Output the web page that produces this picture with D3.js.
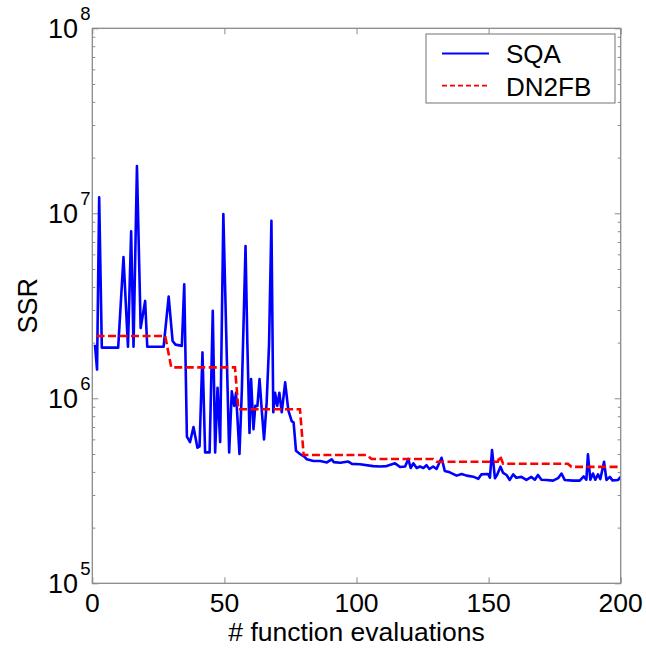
<!DOCTYPE html>
<html>
<head>
<meta charset="utf-8">
<script src="https://cdn.jsdelivr.net/npm/d3@7"></script>
<style>
  html, body { margin: 0; padding: 0; background: #fff; }
  text { font-family: "Liberation Sans", Arial, sans-serif; fill: #000; }
</style>
</head>
<body>
<svg id="chart" width="646" height="648"></svg>
<script>
// ---- data ----
const sqaEval = [1, 1.8, 2.6, 3.6, 9.8, 11.8, 13.5, 14.7, 15.6, 16.9, 18.3, 20.0, 20.8, 27.0, 28.9, 30.4, 31.5, 33.9, 34.8, 35.8,
  37.0, 38.3, 39.8, 40.6, 41.7, 42.7, 44.4, 45.6, 46.5, 47.4, 48.4, 49.6, 50.9, 51.8, 52.8, 53.7, 54.4, 55.7, 56.6, 58.0,
  58.7, 59.5, 60.1, 61.0, 61.7, 62.5, 63.3, 64.2, 65.0, 66.0, 66.9, 67.8, 68.5, 69.2, 70.0, 70.8, 71.7, 73.0, 74.2, 75.5,
  76.2, 77.1, 78.6, 80.5, 81.2, 83.7, 86.2, 88.8, 90.6, 91.4, 93.9, 96.9, 98.3, 101.3, 106.3, 108.8, 111.4, 114.6, 116.5, 118.4,
  119.6, 120.5, 121.5, 122.8, 124.0, 125.3, 126.5, 127.6, 129.0, 130.3, 132.2, 133.4, 135.3, 137.9, 139.8, 141.7, 144.2, 146.1, 147.3, 149.8,
  150.5, 151.3, 152.4, 153.2, 154.5, 155.5, 156.8, 158.0, 159.3, 160.5, 162.4, 164.3, 166.2, 167.5, 168.7, 170.0, 171.9, 174.4, 176.3, 177.6,
  178.8, 182.0, 184.5, 186.0, 187.0, 187.6, 188.5, 189.5, 190.4, 191.4, 192.3, 193.7, 194.6, 195.9, 196.9, 199.0, 200];
const sqaSSR = [1.95e6, 1.43e6, 1.22e7, 1.88e6, 1.88e6, 5.8e6, 1.9e6, 8.0e6, 1.9e6, 1.8e7, 2.4e6, 3.36e6, 1.9e6, 1.9e6, 3.55e6, 2.04e6, 1.95e6, 1.92e6, 4.13e6, 6.2e5,
  5.8e5, 7.0e5, 5.4e5, 5.5e5, 1.77e6, 5.1e5, 5.1e5, 2.97e6, 5.1e5, 1.14e6, 5.8e5, 9.9e6, 1.69e6, 5.1e5, 1.09e6, 9.1e5, 1.07e6, 5.0e5, 1.1e6, 6.65e6,
  1.95e6, 6.5e5, 1.27e6, 6.8e5, 9.1e5, 9.1e5, 1.27e6, 8.4e5, 6.0e5, 9.5e5, 1.95e6, 9.1e6, 8.4e5, 1.07e6, 9.1e5, 1.07e6, 8.4e5, 1.22e6, 8.6e5, 7.5e5,
  7.4e5, 5.2e5, 5.0e5, 4.8e5, 4.68e5, 4.58e5, 4.58e5, 4.5e5, 4.68e5, 4.52e5, 4.48e5, 4.55e5, 4.42e5, 4.4e5, 4.3e5, 4.28e5, 4.3e5, 4.45e5, 4.25e5, 4.28e5,
  4.7e5, 4.2e5, 4.45e5, 4.2e5, 4.28e5, 4.2e5, 4.35e5, 4.15e5, 4.28e5, 4.15e5, 4.77e5, 4.05e5, 3.98e5, 3.82e5, 3.9e5, 3.82e5, 3.77e5, 3.67e5, 3.88e5, 3.9e5,
  3.72e5, 5.25e5, 3.7e5, 3.85e5, 4.27e5, 3.95e5, 3.85e5, 3.62e5, 3.88e5, 3.72e5, 3.76e5, 3.62e5, 3.76e5, 3.63e5, 3.85e5, 3.63e5, 3.62e5, 3.59e5, 3.7e5, 3.92e5,
  3.62e5, 3.59e5, 3.59e5, 3.78e5, 3.63e5, 4.98e5, 3.63e5, 3.92e5, 3.63e5, 3.88e5, 3.66e5, 4.54e5, 3.62e5, 3.76e5, 3.6e5, 3.62e5, 3.76e5];

const dnEval = [1.6, 27.6, 29.9, 54.0, 55.3, 78.6, 80.0, 103.9, 105.7, 129.0, 130.3, 153.5, 154.3, 155.5, 180.0, 181.4, 200];
const dnSSR  = [2.17e6, 2.17e6, 1.47e6, 1.47e6, 8.72e5, 8.72e5, 4.94e5, 4.94e5, 4.70e5, 4.70e5, 4.54e5, 4.54e5, 4.88e5, 4.43e5, 4.43e5, 4.26e5, 4.26e5];

const xTicks = [0, 50, 100, 150, 200];
const yDecades = [5, 6, 7, 8];
const seriesNames = ["SQA", "DN2FB"];
const xTitle = "# function evaluations";
const yTitle = "SSR";

// ---- layout ----
const L = 92.3, R = 620.7, T = 28.3, B = 583.3;
const axisColor = "#8a8a8a";
const svg = d3.select("#chart");

const x = d3.scaleLinear().domain([0, 200]).range([L, R]);
const y = d3.scaleLog().domain([1e5, 1e8]).range([B, T]);

// minor tick values
const minors = [];
for (let d = 5; d < 8; d++) for (let m = 2; m <= 9; m++) minors.push(m * Math.pow(10, d));
const majors = yDecades.map(d => Math.pow(10, d));

function styleAxis(g) {
  g.select(".domain").remove();
  g.selectAll("line").attr("stroke", axisColor).attr("stroke-width", 1);
  g.selectAll("text").remove();
}

// y axes left/right (ticks inward)
svg.append("g").attr("transform", `translate(${L},0)`)
  .call(d3.axisLeft(y).tickValues(minors).tickSize(-3).tickFormat("")).call(styleAxis);
svg.append("g").attr("transform", `translate(${L},0)`)
  .call(d3.axisLeft(y).tickValues(majors).tickSize(-6).tickFormat("")).call(styleAxis);
svg.append("g").attr("transform", `translate(${R},0)`)
  .call(d3.axisRight(y).tickValues(minors).tickSize(-3).tickFormat("")).call(styleAxis);
svg.append("g").attr("transform", `translate(${R},0)`)
  .call(d3.axisRight(y).tickValues(majors).tickSize(-6).tickFormat("")).call(styleAxis);
// x axes bottom/top
svg.append("g").attr("transform", `translate(0,${B})`)
  .call(d3.axisBottom(x).tickValues(xTicks).tickSize(-6).tickFormat("")).call(styleAxis);
svg.append("g").attr("transform", `translate(0,${T})`)
  .call(d3.axisTop(x).tickValues(xTicks).tickSize(-6).tickFormat("")).call(styleAxis);

// clip
svg.append("defs").append("clipPath").attr("id", "clip")
  .append("rect").attr("x", L).attr("y", T).attr("width", R - L).attr("height", B - T);

// lines
const line = d3.line().x(d => x(d[0])).y(d => y(d[1]));
const sqa = sqaEval.map((e, i) => [e, sqaSSR[i]]);
const dn = dnEval.map((e, i) => [e, dnSSR[i]]);

svg.append("path").datum(sqa).attr("clip-path", "url(#clip)")
  .attr("d", line).attr("fill", "none").attr("stroke", "#0000ff")
  .attr("stroke-width", 2.6).attr("stroke-linejoin", "round");
svg.append("path").datum(dn).attr("clip-path", "url(#clip)")
  .attr("d", line).attr("fill", "none").attr("stroke", "#ff0000")
  .attr("stroke-width", 2.6).attr("stroke-dasharray", "8,3.5");

// frame
svg.append("rect").attr("x", L).attr("y", T).attr("width", R - L).attr("height", B - T)
  .attr("fill", "none").attr("stroke", axisColor).attr("stroke-width", 1.3);

// x tick labels
svg.append("g").selectAll("text").data(xTicks).join("text")
  .attr("x", d => x(d)).attr("y", 612).attr("text-anchor", "middle")
  .attr("font-size", 26.5).text(d => d);

// y tick labels 10^n
const yl = svg.append("g").selectAll("g").data(yDecades).join("g");
yl.append("text").attr("x", 78).attr("y", d => y(Math.pow(10, d)) + 10)
  .attr("text-anchor", "end").attr("font-size", 27).text("10");
yl.append("text").attr("x", 80.2).attr("y", d => y(Math.pow(10, d)) - 8.3)
  .attr("font-size", 18.5).text(d => d);

// axis titles
svg.append("text").attr("x", (L + R) / 2).attr("y", 641).attr("text-anchor", "middle")
  .attr("font-size", 26.5).text(xTitle);
svg.append("text").attr("transform", `translate(36.7,${(T + B) / 2}) rotate(-90)`)
  .attr("text-anchor", "middle").attr("font-size", 27).text(yTitle);

// legend
const lg = svg.append("g");
lg.append("rect").attr("x", 426).attr("y", 34).attr("width", 189).attr("height", 69)
  .attr("fill", "#fff").attr("stroke", axisColor).attr("stroke-width", 1.2);
const legendY = [53.5, 85.7];
lg.append("line").attr("x1", 442).attr("x2", 489).attr("y1", legendY[0]).attr("y2", legendY[0])
  .attr("stroke", "#0000ff").attr("stroke-width", 1.8);
lg.append("line").attr("x1", 442).attr("x2", 489).attr("y1", legendY[1]).attr("y2", legendY[1])
  .attr("stroke", "#ff0000").attr("stroke-width", 1.8).attr("stroke-dasharray", "5,3");
lg.selectAll("text.lt").data(seriesNames).join("text").attr("class", "lt")
  .attr("x", 506).attr("y", (d, i) => legendY[i] + 9.8).attr("font-size", 26).text(d => d);
</script>
</body>
</html>
